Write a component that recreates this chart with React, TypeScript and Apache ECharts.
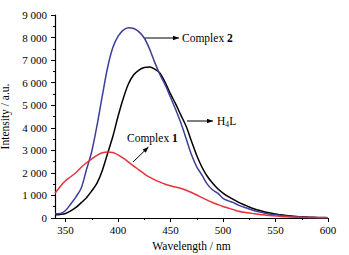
import React, { useEffect, useRef } from "react";
import * as echarts from "echarts";

const wavelengths: number[] = [];
for (let w = 340; w <= 600; w += 5) wavelengths.push(w);

const complex2 = [
  190, 200, 330, 620, 940, 1330, 2150, 2950, 4100, 5400, 6650, 7550, 8050, 8330, 8440, 8400,
  8250, 7980, 7500, 6900, 6350, 5900, 5350, 4800, 4200, 3500, 2800, 2270, 1900, 1500, 1250,
  1100, 870, 760, 680, 560, 480, 400, 320, 260, 210, 170, 140, 110, 85, 65, 50, 38, 30, 24,
  18, 14, 10,
];
const h4l = [
  145, 160, 200, 320, 470, 680, 900, 1200, 1550, 2100, 2850, 3600, 4500, 5300, 5950, 6350,
  6560, 6670, 6690, 6600, 6420, 6000, 5500, 5050, 4550, 4055, 3400, 2770, 2250, 1850, 1550,
  1300, 1107, 950, 820, 690, 590, 490, 400, 330, 270, 220, 180, 140, 110, 85, 65, 50, 40, 30,
  25, 20, 15,
];
const complex1 = [
  1100, 1400, 1650, 1830, 2020, 2250, 2450, 2620, 2780, 2890, 2930, 2900, 2800, 2650, 2480,
  2300, 2130, 1960, 1810, 1690, 1590, 1500, 1430, 1370, 1310, 1230, 1130, 1020, 900, 790, 690,
  600, 513, 440, 370, 300, 250, 220, 190, 160, 135, 110, 90, 70, 55, 45, 35, 30, 25, 20, 15,
  12, 10,
];

const xMajorTicks = [350, 400, 450, 500, 550, 600];
const xMinorTicks = [375, 425, 475, 525, 575];

const FONT = "'Liberation Serif', 'Times New Roman', serif";

const fmtY = (v: number) =>
  v >= 1000 ? `${Math.floor(v / 1000)} ${String(v % 1000).padStart(3, "0")}` : String(v);

const pair = (ys: number[]) => wavelengths.map((w, i) => [w, ys[i]]);

function arrowHead(x1: number, y1: number, x2: number, y2: number) {
  const ang = Math.atan2(y2 - y1, x2 - x1);
  const L = 6,
    W = 2.3;
  const bx = x2 - L * Math.cos(ang),
    by = y2 - L * Math.sin(ang);
  const px = -Math.sin(ang) * W,
    py = Math.cos(ang) * W;
  return {
    type: "polygon",
    shape: {
      points: [
        [x2, y2],
        [bx + px, by + py],
        [bx - px, by - py],
      ],
    },
    style: { fill: "#000" },
    silent: true,
  };
}

function arrow(x1: number, y1: number, x2: number, y2: number) {
  return [
    {
      type: "line",
      shape: { x1, y1, x2, y2 },
      style: { stroke: "#000", lineWidth: 1 },
      silent: true,
    },
    arrowHead(x1, y1, x2, y2),
  ];
}

export default function App() {
  const ref = useRef<HTMLDivElement>(null);
  useEffect(() => {
    if (!ref.current) return;
    const chart = echarts.init(ref.current, null, { renderer: "svg" });
    const axisLine = { lineStyle: { color: "#000", width: 1.2 } };
    chart.setOption({
      animation: false,
      backgroundColor: "#fff",
      grid: { left: 55, right: 21, top: 15, bottom: 37, outerBoundsMode: "none", containLabel: false },
      xAxis: [
        {
          type: "value",
          min: 340,
          max: 600,
          position: "bottom",
          name: "Wavelength / nm",
          nameLocation: "middle",
          nameGap: 19,
          nameTextStyle: { fontFamily: FONT, fontSize: 11.5, color: "#000" },
          axisLine,
          axisTick: { show: true, length: 4, lineStyle: { color: "#000" }, customValues: xMajorTicks },
          axisLabel: {
            fontFamily: FONT,
            fontSize: 11,
            color: "#000",
            margin: 6,
            customValues: xMajorTicks,
          },
          splitLine: { show: false },
        },
        {
          type: "value",
          min: 340,
          max: 600,
          position: "bottom",
          axisLine: { show: false },
          axisTick: { show: true, length: 2, lineStyle: { color: "#000" }, customValues: xMinorTicks },
          axisLabel: { show: false, customValues: xMinorTicks },
          splitLine: { show: false },
        },
      ],
      yAxis: {
        type: "value",
        min: 0,
        max: 9000,
        interval: 1000,
        name: "Intensity / a.u.",
        nameLocation: "middle",
        nameGap: 40,
        nameTextStyle: { fontFamily: FONT, fontSize: 11.5, color: "#000" },
        axisLine: { show: true, ...axisLine },
        axisTick: { show: true, length: 4, lineStyle: { color: "#000" } },
        minorTick: { show: true, splitNumber: 2, length: 2, lineStyle: { color: "#000" } },
        axisLabel: { fontFamily: FONT, fontSize: 11, color: "#000", margin: 8, formatter: fmtY },
        splitLine: { show: false },
      },
      series: [
        {
          name: "Complex 2",
          type: "line",
          data: pair(complex2),
          showSymbol: false,
          smooth: 0.3,
          lineStyle: { color: "#3c3f99", width: 1.5 },
          z: 3,
        },
        {
          name: "H4L",
          type: "line",
          data: pair(h4l),
          showSymbol: false,
          smooth: 0.3,
          lineStyle: { color: "#000", width: 1.5 },
          z: 2,
        },
        {
          name: "Complex 1",
          type: "line",
          data: pair(complex1),
          showSymbol: false,
          smooth: 0.3,
          lineStyle: { color: "#e5323c", width: 1.5 },
          z: 4,
        },
      ],
      graphic: [
        ...arrow(145, 38, 179, 38),
        {
          type: "text",
          x: 182,
          y: 38,
          style: {
            text: "{n|Complex }{b|2}",
            verticalAlign: "middle",
            rich: {
              n: { fontFamily: FONT, fontSize: 11.5, fill: "#000" },
              b: { fontFamily: FONT, fontSize: 11.5, fontWeight: "bold", fill: "#000" },
            },
          },
        },
        ...arrow(187, 121, 213, 121),
        {
          type: "text",
          x: 217,
          y: 121,
          style: { text: "H", fontFamily: FONT, fontSize: 11.5, fill: "#000", verticalAlign: "middle" },
        },
        {
          type: "text",
          x: 225.3,
          y: 124.5,
          style: { text: "4", fontFamily: FONT, fontSize: 7.5, fill: "#000", verticalAlign: "middle" },
        },
        {
          type: "text",
          x: 229.3,
          y: 121,
          style: { text: "L", fontFamily: FONT, fontSize: 11.5, fill: "#000", verticalAlign: "middle" },
        },
        ...arrow(133, 162, 148.5, 147),
        {
          type: "text",
          x: 127,
          y: 138,
          style: {
            text: "{n|Complex }{b|1}",
            verticalAlign: "middle",
            rich: {
              n: { fontFamily: FONT, fontSize: 11.5, fill: "#000" },
              b: { fontFamily: FONT, fontSize: 11.5, fontWeight: "bold", fill: "#000" },
            },
          },
        },
      ],
    });
    return () => chart.dispose();
  }, []);
  return (
    <div
      ref={ref}
      style={{ position: "fixed", left: 0, top: 0, width: 349, height: 255, background: "#fff" }}
    />
  );
}
